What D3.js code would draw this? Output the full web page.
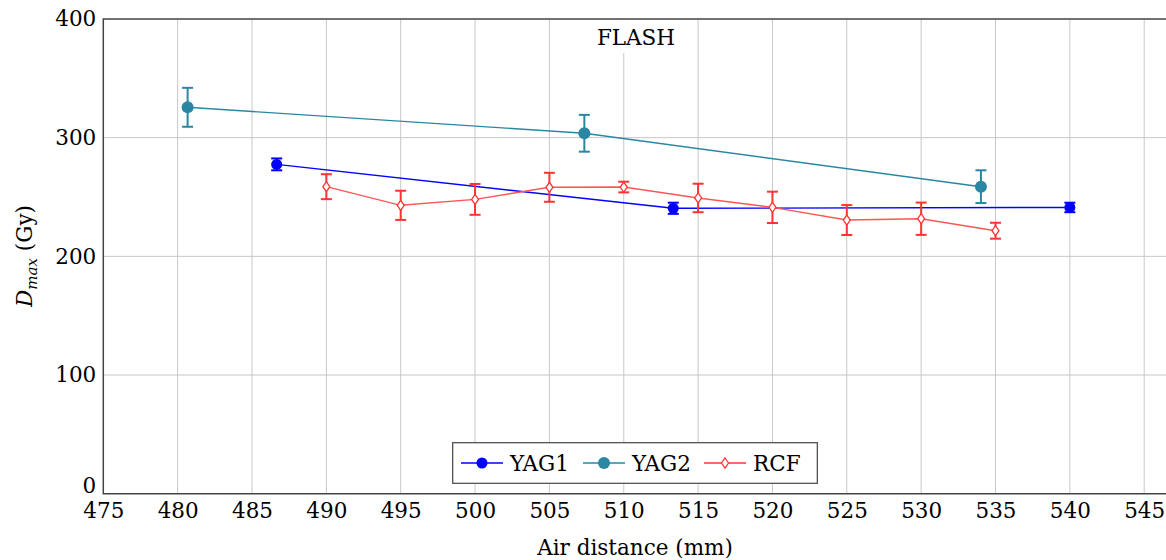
<!DOCTYPE html>
<html>
<head>
<meta charset="utf-8">
<script src="https://cdn.jsdelivr.net/npm/d3@7"></script>
<style>
  body { margin: 0; background: #fff; }
  text { font-family: "DejaVu Serif", "Liberation Serif", serif; }
</style>
</head>
<body>
<script>
var width = 1166;
var height = 560;

// data
var xTicks = [475, 480, 485, 490, 495, 500, 505, 510, 515, 520, 525, 530, 535, 540, 545];
var yTicks = [0, 100, 200, 300, 400];

var yag1X = [486.66, 513.33, 540.0];
var yag1Y = [277.5, 240.5, 241.2];
var yag1Err = [5, 4.7, 4];

var yag2X = [480.67, 507.35, 534.02];
var yag2Y = [325.6, 303.7, 258.7];
var yag2Err = [16.4, 15.5, 13.8];

var rcfX = [490, 495, 500, 505, 510, 515, 520, 525, 530, 535];
var rcfY = [258.7, 243, 248, 258.2, 258.4, 249.2, 241.3, 230.6, 231.7, 221.6];
var rcfErr = [10.5, 12.3, 13, 12.2, 4.5, 12, 13.2, 12.6, 13.6, 6.7];

var series = [
  { name: 'YAG1', xs: yag1X, ys: yag1Y, es: yag1Err, color: '#0000ff', line: '#0000ff', mark: 'circle', r: 5.5 },
  { name: 'YAG2', xs: yag2X, ys: yag2Y, es: yag2Err, color: '#2a87a3', line: '#2a87a3', mark: 'circle', r: 6 },
  { name: 'RCF', xs: rcfX, ys: rcfY, es: rcfErr, color: '#ff3333', line: '#ff5555', mark: 'diamond', r: 5 }
];

var pLeft = 103.3, pTop = 19, pBottom = 493.7, pRight = 1166;
var fs = '21.5px';

var x = d3.scaleLinear().domain([475, 475 + (pRight - pLeft) / 14.87]).range([pLeft, pRight]);
var y = d3.scaleLinear().domain([0, 400]).range([pBottom, pTop]);

var svg = d3.select('body').append('svg')
  .attr('width', width).attr('height', height);

// grid
svg.append('g').selectAll('line').data(xTicks.slice(1)).enter().append('line')
  .attr('x1', function(d){ return x(d); }).attr('x2', function(d){ return x(d); })
  .attr('y1', pTop).attr('y2', pBottom)
  .style('stroke', '#c8c8c8').style('stroke-width', 1);
svg.append('g').selectAll('line').data(yTicks.slice(1, -1)).enter().append('line')
  .attr('x1', pLeft).attr('x2', pRight)
  .attr('y1', function(d){ return y(d); }).attr('y2', function(d){ return y(d); })
  .style('stroke', '#c8c8c8').style('stroke-width', 1);

// axes
var xAxis = svg.append('g').attr('transform', 'translate(0,' + pBottom + ')')
  .call(d3.axisBottom(x).tickValues(xTicks).tickSize(0).tickPadding(9).tickFormat(d3.format('d')));
xAxis.select('.domain').remove();
xAxis.selectAll('text').style('font-size', fs).style('fill', '#000');

var yAxis = svg.append('g').attr('transform', 'translate(' + pLeft + ',0)')
  .call(d3.axisLeft(y).tickValues(yTicks).tickSize(0).tickPadding(7).tickFormat(d3.format('d')));
yAxis.select('.domain').remove();
yAxis.selectAll('text').style('font-size', fs).style('fill', '#000');
svg.selectAll('.tick text').style('font-family', '"DejaVu Serif", serif');
// the 0 label sits a bit higher so it clears the 475 label
yAxis.selectAll('.tick').filter(function(d){ return d === 0; }).select('text').attr('dy', '-0.05em');

// frame
svg.append('path')
  .attr('d', 'M' + (pRight + 2) + ',' + pTop + 'H' + pLeft + 'V' + pBottom + 'H' + (pRight + 2))
  .style('fill', 'none').style('stroke', '#444').style('stroke-width', 1.5);

// title box
svg.append('rect').attr('x', 585).attr('y', 20).attr('width', 102).attr('height', 33)
  .style('fill', '#fff');
svg.append('text').attr('x', 636).attr('y', 45).attr('text-anchor', 'middle')
  .style('font-size', fs).text('FLASH');

var line = d3.line()
  .x(function(d){ return x(d.x); })
  .y(function(d){ return y(d.y); });

series.forEach(function(s){
  var pts = s.xs.map(function(v, i){ return { x: v, y: s.ys[i], e: s.es[i] }; });
  var g = svg.append('g');
  g.append('path').datum(pts).attr('d', line)
    .style('fill', 'none').style('stroke', s.line).style('stroke-width', 1.4);

  // error bars
  var eb = g.selectAll('.eb').data(pts).enter().append('g');
  eb.append('line')
    .attr('x1', function(d){ return x(d.x); }).attr('x2', function(d){ return x(d.x); })
    .attr('y1', function(d){ return y(d.y + d.e); }).attr('y2', function(d){ return y(d.y - d.e); })
    .style('stroke', s.color).style('stroke-width', 2);
  [1, -1].forEach(function(sign){
    eb.append('line')
      .attr('x1', function(d){ return x(d.x) - 5.5; }).attr('x2', function(d){ return x(d.x) + 5.5; })
      .attr('y1', function(d){ return y(d.y + sign * d.e); }).attr('y2', function(d){ return y(d.y + sign * d.e); })
      .style('stroke', s.color).style('stroke-width', 2);
  });

  if (s.mark === 'circle') {
    g.selectAll('circle').data(pts).enter().append('circle')
      .attr('cx', function(d){ return x(d.x); }).attr('cy', function(d){ return y(d.y); })
      .attr('r', s.r).style('fill', s.color);
  } else {
    g.selectAll('.dm').data(pts).enter().append('path')
      .attr('transform', function(d){ return 'translate(' + x(d.x) + ',' + y(d.y) + ')'; })
      .attr('d', 'M0,-5L3.5,0L0,5L-3.5,0Z')
      .style('fill', '#fff').style('stroke', s.color).style('stroke-width', 1.3);
  }
});

// legend
var lg = svg.append('g');
lg.append('rect').attr('x', 452.7).attr('y', 442.7).attr('width', 364.6).attr('height', 40.6)
  .style('fill', '#fff').style('stroke', '#444').style('stroke-width', 1.2);
var legX = [461, 583, 704];
series.forEach(function(s, i){
  var lx = legX[i], ly = 463;
  lg.append('line').attr('x1', lx).attr('x2', lx + 42).attr('y1', ly).attr('y2', ly)
    .style('stroke', s.color).style('stroke-width', 1.6);
  if (s.mark === 'circle') {
    lg.append('circle').attr('cx', lx + 21).attr('cy', ly).attr('r', s.r).style('fill', s.color);
  } else {
    lg.append('path').attr('transform', 'translate(' + (lx + 21) + ',' + ly + ')')
      .attr('d', 'M0,-5L3.5,0L0,5L-3.5,0Z')
      .style('fill', '#fff').style('stroke', s.color).style('stroke-width', 1.3);
  }
  lg.append('text').attr('x', lx + 49).attr('y', ly + 8).style('font-size', fs).text(s.name);
});

// axis labels
svg.append('text').attr('x', 635).attr('y', 555).attr('text-anchor', 'middle')
  .style('font-size', fs).text('Air distance (mm)');

var yl = svg.append('text').attr('transform', 'translate(32,256) rotate(-90)')
  .attr('text-anchor', 'middle').style('font-size', fs);
yl.append('tspan').style('font-style', 'italic').text('D');
yl.append('tspan').style('font-style', 'italic').style('font-size', '15px').attr('dy', 5).text('max');
yl.append('tspan').attr('dy', -5).text(' (Gy)');
</script>
</body>
</html>
